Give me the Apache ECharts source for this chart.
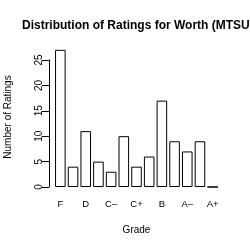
<!DOCTYPE html>
<html>
<head>
<meta charset="utf-8">
<script src="https://cdn.jsdelivr.net/npm/echarts@6/dist/echarts.min.js"></script>
<style>
  html, body { margin: 0; padding: 0; background: #fff; }
  #chart { width: 250px; height: 250px; }
</style>
</head>
<body>
<div id="chart"></div>
<script>
// grades in order, only every other one gets a label
const grades = ['F', 'D-', 'D', 'D+', 'C-', 'C', 'C+', 'B-', 'B', 'B+', 'A-', 'A', 'A+']
const gradeLabels = ['F', '', 'D', '', 'C\u2013', '', 'C+', '', 'B', '', 'A\u2013', '', 'A+']
const counts = [27, 4, 11, 5, 3, 10, 4, 6, 17, 9, 7, 9, 0]
const yTicks = [0, 5, 10, 15, 20, 25]

const font = 'Liberation Sans, Arial, sans-serif'
const chart = echarts.init(document.getElementById('chart'))

chart.setOption({
  animation: false,
  backgroundColor: '#fff',
  title: {
    text: 'Distribution of Ratings for Worth (MTSU)',
    left: 17,
    top: 15,
    textStyle: { fontFamily: font, fontSize: 12, fontWeight: 'bold', color: '#000' }
  },
  grid: { left: 54, right: 31, top: 60, bottom: 63 },
  xAxis: {
    type: 'category',
    data: grades,
    axisLine: { show: false },
    axisTick: { show: false },
    axisLabel: {
      interval: 0,
      margin: 12,
      fontFamily: font,
      fontSize: 9.5,
      color: '#000',
      formatter: (v, i) => gradeLabels[i]
    },
    name: 'Grade',
    nameLocation: 'middle',
    nameGap: 38,
    nameTextStyle: { fontFamily: font, fontSize: 10, color: '#000' }
  },
  yAxis: {
    type: 'value',
    min: yTicks[0],
    max: yTicks[yTicks.length - 1],
    interval: 5,
    offset: 5,
    splitLine: { show: false },
    axisLine: { show: true, lineStyle: { color: '#000', width: 1 } },
    axisTick: { show: true, length: 7, lineStyle: { color: '#000', width: 1 } },
    axisLabel: {
      rotate: 90,
      margin: 5,
      fontFamily: font,
      fontSize: 10,
      color: '#000'
    }
  },
  graphic: [{
    type: 'text',
    x: 3,
    y: 117,
    rotation: Math.PI / 2,
    style: {
      text: 'Number of Ratings',
      fontFamily: font,
      fontSize: 10,
      fill: '#000',
      align: 'center',
      verticalAlign: 'top'
    }
  }],
  series: [{
    type: 'bar',
    data: counts,
    clip: false,
    barCategoryGap: '16.7%',
    itemStyle: { color: '#fff', borderColor: '#000', borderWidth: 1 }
  }]
})
</script>
</body>
</html>
